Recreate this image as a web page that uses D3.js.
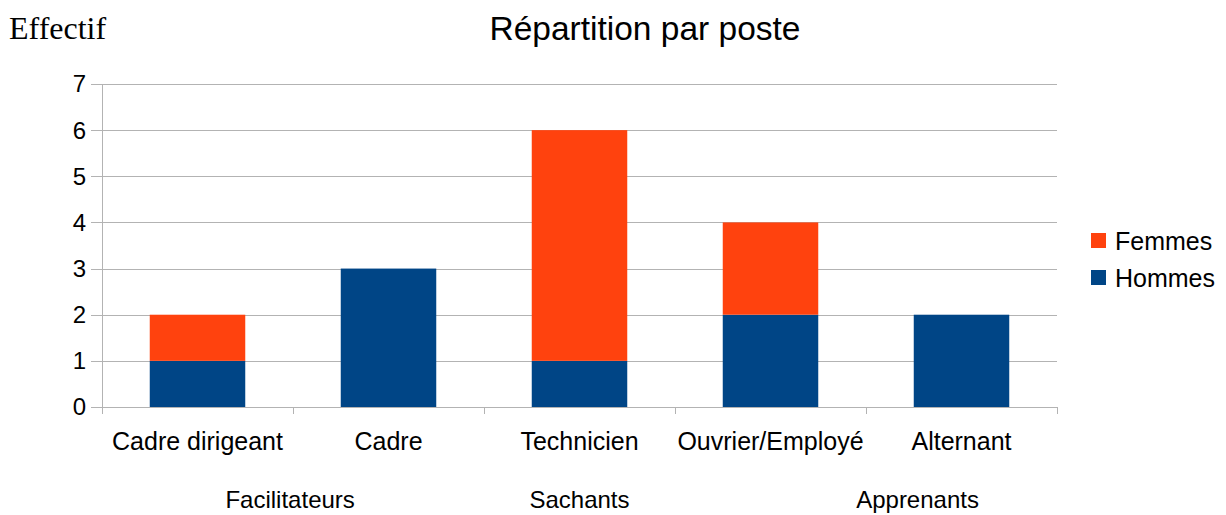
<!DOCTYPE html>
<html>
<head>
	<script src="https://d3js.org/d3.v7.min.js"></script>
	<style>
		body { margin: 0; background: #fff; }
		text { font-family: "Liberation Sans", Arial, sans-serif; fill: #000; }
	</style>
</head>
<body>
<svg id="container"></svg>
<script>
// data
let categories = ['Cadre dirigeant', 'Cadre', 'Technicien', 'Ouvrier/Employé', 'Alternant'];
let hommes = [1, 3, 1, 2, 2];
let femmes = [1, 0, 5, 2, 0];
let yTicks = [0, 1, 2, 3, 4, 5, 6, 7];
let groups = ['Facilitateurs', 'Sachants', 'Apprenants'];
let groupPos = [0.985, 2.5, 4.27]; // in category units from the left edge
let seriesNames = ['Femmes', 'Hommes'];
let colors = {Hommes: '#004586', Femmes: '#ff420e'};

let width = 1226, height = 515;
let plot = {left: 102, right: 1057, top: 84, bottom: 407};

let svg = d3.select('#container')
	.attr('width', width)
	.attr('height', height);

let x = d3.scaleBand()
	.domain(categories)
	.range([plot.left, plot.right])
	.paddingInner(0.5)
	.paddingOuter(0.25);

let xLin = d3.scaleLinear()
	.domain([0, categories.length])
	.range([plot.left, plot.right]);

let y = d3.scaleLinear()
	.domain([0, 7])
	.range([plot.bottom, plot.top]);

// grid lines
svg.append('g')
	.selectAll('line')
	.data(yTicks)
	.join('line')
	.attr('x1', plot.left - 11)
	.attr('x2', plot.right)
	.attr('y1', d => Math.round(y(d)) + 0.5)
	.attr('y2', d => Math.round(y(d)) + 0.5)
	.attr('stroke', '#b3b3b3')
	.attr('stroke-width', 1);

// y axis line and bottom ticks
svg.append('line')
	.attr('x1', plot.left + 0.5).attr('x2', plot.left + 0.5)
	.attr('y1', plot.top).attr('y2', plot.bottom + 7)
	.attr('stroke', '#b3b3b3');

svg.append('g')
	.selectAll('line')
	.data(d3.range(1, categories.length + 1))
	.join('line')
	.attr('x1', d => Math.round(xLin(d)) + 0.5)
	.attr('x2', d => Math.round(xLin(d)) + 0.5)
	.attr('y1', plot.bottom)
	.attr('y2', plot.bottom + 7)
	.attr('stroke', '#b3b3b3');

// y labels
svg.append('g')
	.selectAll('text')
	.data(yTicks)
	.join('text')
	.attr('x', plot.left - 16)
	.attr('y', d => y(d))
	.attr('dy', '0.35em')
	.attr('text-anchor', 'end')
	.style('font-size', '24px')
	.text(d => d);

// stacked bars
let rows = categories.map((c, i) => ({cat: c, Hommes: hommes[i], Femmes: femmes[i]}));
let stack = d3.stack().keys(['Hommes', 'Femmes'])(rows);

svg.append('g')
	.selectAll('g')
	.data(stack)
	.join('g')
	.attr('fill', d => colors[d.key])
	.selectAll('rect')
	.data(d => d.filter(p => p[1] > p[0]))
	.join('rect')
	.attr('x', d => x(d.data.cat))
	.attr('width', x.bandwidth())
	.attr('y', d => y(d[1]))
	.attr('height', d => y(d[0]) - y(d[1]));

// category labels
svg.append('g')
	.selectAll('text')
	.data(categories)
	.join('text')
	.attr('x', d => x(d) + x.bandwidth() / 2)
	.attr('y', 450)
	.attr('text-anchor', 'middle')
	.style('font-size', '25px')
	.text(d => d);

// group labels
svg.append('g')
	.selectAll('text')
	.data(groups)
	.join('text')
	.attr('x', (d, i) => xLin(groupPos[i]))
	.attr('y', 508)
	.attr('text-anchor', 'middle')
	.style('font-size', '24px')
	.text(d => d);

// title
svg.append('text')
	.attr('x', 645)
	.attr('y', 40)
	.attr('text-anchor', 'middle')
	.style('font-size', '33.5px')
	.text('Répartition par poste');

// y axis title
svg.append('text')
	.attr('x', 9)
	.attr('y', 39)
	.style('font-family', '"Liberation Serif", "Times New Roman", serif')
	.style('font-size', '32px')
	.text('Effectif');

// legend
let legend = svg.append('g')
	.selectAll('g')
	.data(seriesNames)
	.join('g')
	.attr('transform', (d, i) => `translate(1091, ${233 + i * 37})`);

legend.append('rect')
	.attr('width', 15)
	.attr('height', 15)
	.attr('fill', d => colors[d]);

legend.append('text')
	.attr('x', 24)
	.attr('y', 8)
	.attr('dy', '0.35em')
	.style('font-size', '25px')
	.text(d => d);
</script>
</body>
</html>
